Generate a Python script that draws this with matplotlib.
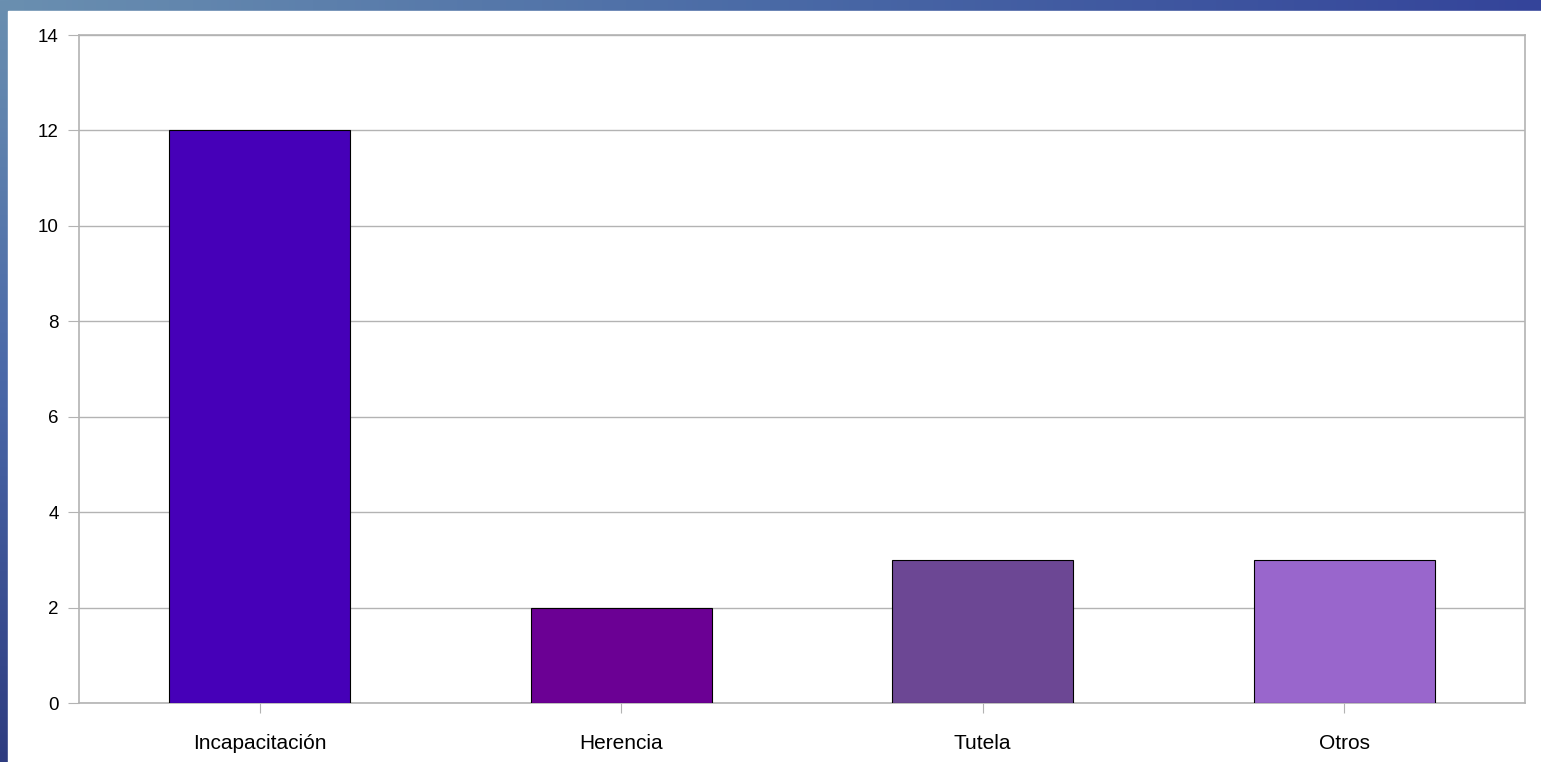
import matplotlib.pyplot as plt
import numpy as np
from matplotlib.colors import LinearSegmentedColormap

# datos
categorias = ['Incapacitación', 'Herencia', 'Tutela', 'Otros']
valores = [12, 2, 3, 3]
colores = ['#4600B8', '#6B0094', '#6C4794', '#9966CC']
yticks = [0, 2, 4, 6, 8, 10, 12, 14]

plt.rcParams['font.family'] = ['Liberation Sans', 'DejaVu Sans']

W, H = 1541, 762
fig = plt.figure(figsize=(W / 100, H / 100), dpi=100)

# fondo azul tipo diapositiva
bg = fig.add_axes([0, 0, 1, 1], zorder=-10)
grad_h = np.linspace(0, 1, 256).reshape(1, -1)
grad_v = np.linspace(0, 1, 256).reshape(-1, 1)
cmap = LinearSegmentedColormap.from_list('fondo', ['#6a8fb0', '#4a6aa6', '#34449a'])
bg.imshow(grad_h, aspect='auto', cmap=cmap, extent=[0, 1, 0, 1])
cmap_v = LinearSegmentedColormap.from_list('fondo_v', ['#6a8fb0', '#4a68a8', '#2e3c80'])
bg.imshow(grad_v, aspect='auto', cmap=cmap_v, extent=[0, 8 / W, 0, 1])
bg.add_patch(plt.Rectangle((8 / W, 0), 1, (H - 11) / H, color='white'))
bg.set_xlim(0, 1)
bg.set_ylim(0, 1)
bg.axis('off')

ax = fig.add_axes([79 / W, (H - 703) / H, 1446 / W, 668 / H])
x = np.arange(len(categorias))
ax.bar(x, valores, width=0.5, color=colores, edgecolor='black', linewidth=0.8, zorder=3)

ax.set_xlim(-0.5, 3.5)
ax.set_ylim(0, 14)
ax.set_yticks(yticks)
ax.set_xticks(x)
ax.set_xticklabels(categorias)
ax.yaxis.grid(True, color='#b3b3b3', linewidth=1)
ax.set_axisbelow(True)
for s in ax.spines.values():
    s.set_color('#b3b3b3')
    s.set_linewidth(1.2)
ax.tick_params(axis='y', length=8, color='#b3b3b3', labelsize=13.5, pad=6.5)
ax.tick_params(axis='x', length=7, color='#b3b3b3', labelsize=15, pad=15)

fig.savefig('out.png', dpi=100)
